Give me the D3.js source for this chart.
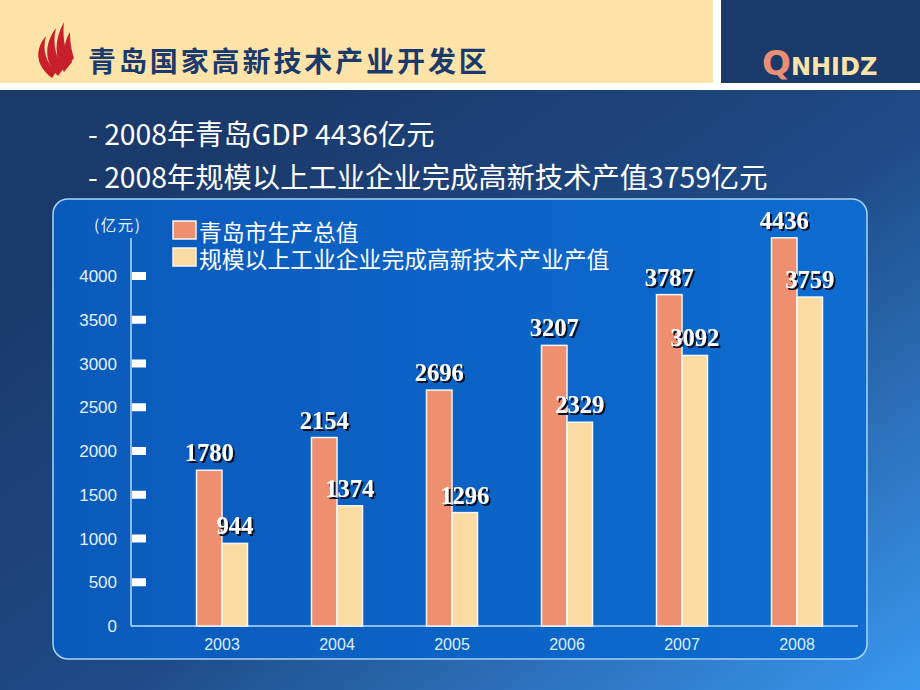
<!DOCTYPE html>
<html>
<head>
<meta charset="utf-8">
<script src="https://cdn.jsdelivr.net/npm/d3@7"></script>
<style>
  html, body { margin: 0; padding: 0; background: #1b3a6c; }
  svg { display: block; }
</style>
</head>
<body>
<svg id="slide" width="920" height="690"></svg>
<script>
const years = ['2003', '2004', '2005', '2006', '2007', '2008'];
const gdp = [1780, 2154, 2696, 3207, 3787, 4436];
const hiTech = [944, 1374, 1296, 2329, 3092, 3759];
const yTicks = [0, 500, 1000, 1500, 2000, 2500, 3000, 3500, 4000];
const seriesNames = ['青岛市生产总值', '规模以上工业企业完成高新技术产业产值'];
const seriesColors = ['#ee8f6f', '#fadca2'];
const bullets = ['- 2008年青岛GDP 4436亿元', '- 2008年规模以上工业企业完成高新技术产值3759亿元'];

const cjk = '"Noto Sans CJK SC", "Noto Sans", sans-serif';
const svg = d3.select('#slide');
const defs = svg.append('defs');

// slide background
let bg = defs.append('linearGradient').attr('id', 'bg')
  .attr('x1', 0.25).attr('y1', 0.2).attr('x2', 1).attr('y2', 1);
bg.append('stop').attr('offset', 0).attr('stop-color', '#1b3a6c');
bg.append('stop').attr('offset', 0.45).attr('stop-color', '#1e4a86');
bg.append('stop').attr('offset', 1).attr('stop-color', '#3a98f0');
svg.append('rect').attr('width', 920).attr('height', 690).attr('fill', 'url(#bg)');

// shadow for the value labels
defs.append('filter').attr('id', 'shadow')
  .attr('x', -0.2).attr('y', -0.3).attr('width', 1.5).attr('height', 1.6)
  .append('feDropShadow')
  .attr('dx', 2).attr('dy', 2).attr('stdDeviation', 0.6)
  .attr('flood-color', '#0a1020').attr('flood-opacity', 1);

// header
svg.append('rect').attr('x', 0).attr('y', 0).attr('width', 920).attr('height', 90).attr('fill', '#ffffff');
svg.append('rect').attr('x', 0).attr('y', 0).attr('width', 713).attr('height', 83).attr('fill', '#fde3a8');
svg.append('rect').attr('x', 721).attr('y', 0).attr('width', 199).attr('height', 83).attr('fill', '#1b3a6c');

// flame logo
const flame = svg.append('g').attr('fill', '#c8202a');
[
  'M52,78 C36,66 34,50 46,36 C42,50 46,62 56,72 Z',
  'M58,76 C44,62 44,44 56,28 C52,44 56,58 64,68 Z',
  'M64,72 C54,58 54,40 64,22 C62,40 66,54 72,62 Z',
  'M68,66 C62,54 64,42 70,32 C70,44 72,52 74,58 Z'
].forEach(d => flame.append('path').attr('d', d));

svg.append('text').attr('x', 88).attr('y', 72)
  .attr('font-family', cjk).attr('font-weight', 'bold')
  .attr('font-size', 28).attr('letter-spacing', 2.9)
  .attr('fill', '#1b3a6c').text('青岛国家高新技术产业开发区');

const logoText = svg.append('text').attr('x', 762).attr('y', 75)
  .attr('font-family', '"DejaVu Sans", sans-serif').attr('font-weight', 'bold');
logoText.append('tspan').attr('font-size', 34).attr('fill', '#ea8f74').text('Q');
logoText.append('tspan').attr('font-size', 24).attr('fill', '#fde3a8').text('NHIDZ');

// bullet lines
bullets.forEach((t, i) => {
  svg.append('text').attr('x', 88).attr('y', 145 + i * 43)
    .attr('font-family', cjk).attr('font-size', 28.3)
    .attr('fill', '#ffffff').text(t);
});

// chart panel
let pg = defs.append('linearGradient').attr('id', 'panel')
  .attr('x1', 0).attr('y1', 0).attr('x2', 1).attr('y2', 0);
pg.append('stop').attr('offset', 0).attr('stop-color', '#0a5abb');
pg.append('stop').attr('offset', 1).attr('stop-color', '#0e6cd0');
svg.append('rect').attr('x', 53).attr('y', 199).attr('width', 814).attr('height', 460)
  .attr('rx', 15).attr('fill', 'url(#panel)')
  .attr('stroke', '#a8d4f4').attr('stroke-width', 1.5);

// scales
const y = d3.scaleLinear().domain([0, 4000]).range([626, 276]);
const x0 = d3.scaleBand().domain(years).range([164.5, 854.5]);
const x1 = d3.scaleBand().domain([0, 1]).range([-25.5, 25.5]);
const cx = yr => x0(yr) + x0.bandwidth() / 2;

// axes
const axisColor = '#b8dcf8';
svg.append('line').attr('x1', 131).attr('x2', 131).attr('y1', 238).attr('y2', y(0))
  .attr('stroke', axisColor).attr('stroke-width', 1.5);
svg.append('line').attr('x1', 131).attr('x2', 858).attr('y1', y(0)).attr('y2', y(0))
  .attr('stroke', axisColor).attr('stroke-width', 1.5);

svg.selectAll('.tickmark').data(yTicks.filter(v => v > 0)).join('rect')
  .attr('class', 'tickmark')
  .attr('x', 132).attr('width', 14)
  .attr('y', d => y(d) - 4).attr('height', 8)
  .attr('fill', '#ffffff');

svg.selectAll('.ticklabel').data(yTicks).join('text')
  .attr('class', 'ticklabel')
  .attr('x', 117).attr('y', d => y(d) + 6)
  .attr('text-anchor', 'end')
  .attr('font-family', '"Liberation Sans", Arial, sans-serif').attr('font-size', 17)
  .attr('fill', '#e4f2ff').text(d => d);

svg.append('text').attr('x', 94).attr('y', 231)
  .attr('font-family', cjk).attr('font-size', 15.5).attr('letter-spacing', 1.5)
  .attr('fill', '#e4f2ff').text('(亿元)');

svg.selectAll('.xlabel').data(years).join('text')
  .attr('class', 'xlabel')
  .attr('x', d => cx(d)).attr('y', 650)
  .attr('text-anchor', 'middle')
  .attr('font-family', '"Liberation Sans", Arial, sans-serif').attr('font-size', 16)
  .attr('fill', '#dcf0ff').text(d => d);

// bars
const series = [gdp, hiTech];
series.forEach((vals, s) => {
  svg.selectAll('.bar' + s).data(vals).join('rect')
    .attr('class', 'bar' + s)
    .attr('x', (d, i) => cx(years[i]) + x1(s))
    .attr('width', x1.bandwidth())
    .attr('y', d => y(d))
    .attr('height', d => y(0) - y(d))
    .attr('fill', seriesColors[s])
    .attr('stroke', '#f6f6f6').attr('stroke-width', 1.5);
});

// value labels
series.forEach((vals, s) => {
  svg.selectAll('.val' + s).data(vals).join('text')
    .attr('class', 'val' + s)
    .attr('x', (d, i) => cx(years[i]) + x1(s) + x1.bandwidth() / 2)
    .attr('y', d => y(d) - 9)
    .attr('text-anchor', 'middle')
    .attr('font-family', '"Liberation Serif", "Times New Roman", serif')
    .attr('font-weight', 'bold').attr('font-size', 24.5)
    .attr('fill', '#ffffff').attr('filter', 'url(#shadow)')
    .text(d => d);
});

// legend
seriesNames.forEach((name, i) => {
  svg.append('rect').attr('x', 173).attr('y', 221 + i * 27).attr('width', 23).attr('height', 18)
    .attr('fill', seriesColors[i]).attr('stroke', '#f6f6f6').attr('stroke-width', 1.5);
  svg.append('text').attr('x', 199).attr('y', 241 + i * 27)
    .attr('font-family', cjk).attr('font-size', 22.8)
    .attr('fill', '#ffffff').text(name);
});
</script>
</body>
</html>
